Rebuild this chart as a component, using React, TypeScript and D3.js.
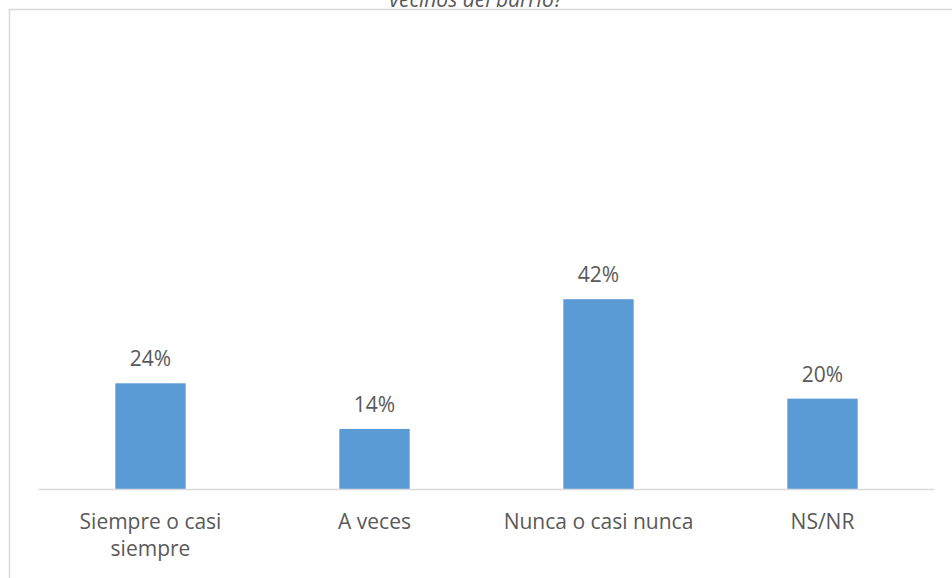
import React from "react";
import * as d3 from "d3";

const categories: string[][] = [
  ["Siempre o casi", "siempre"],
  ["A veces"],
  ["Nunca o casi nunca"],
  ["NS/NR"],
];
const values: number[] = [0.235, 0.134, 0.421, 0.201];
const valueLabels: string[] = ["24%", "14%", "42%", "20%"];
const titleText = "vecinos del barrio?";

const W = 952;
const H = 578;
const FONT = "'Open Sans', sans-serif";
const TEXT = "#595959";
const GRID = "#d9d9d9";
const BAR = "#5b9bd5";

export default function App() {
  const x = d3
    .scaleBand<number>()
    .domain(d3.range(categories.length))
    .range([38.5, 934.5])
    .paddingInner(0.686)
    .paddingOuter(0.343);
  const y = d3.scaleLinear().domain([0, 0.5]).range([489.5, 263.5]);

  return (
    <svg
      width={W}
      height={H}
      style={{ position: "absolute", left: 0, top: 0, background: "#fff" }}
      fontFamily={FONT}
    >
      <rect x={0} y={0} width={W} height={H} fill="#fff" />
      <rect x={9.5} y={9.5} width={1200} height={1200} fill="#fff" stroke={GRID} strokeWidth={1.5} />
      <text
        x={476}
        y={6.5}
        textAnchor="middle"
        fontSize={21}
        fontStyle="italic"
        fill={TEXT}
      >
        {titleText}
      </text>
      {values.map((v, i) => (
        <rect
          key={"b" + i}
          x={x(i)!}
          y={y(v)}
          width={x.bandwidth()}
          height={y(0) - y(v)}
          fill={BAR}
        />
      ))}
      <line x1={38.5} x2={934.5} y1={y(0)} y2={y(0)} stroke={GRID} strokeWidth={1.5} />
      {values.map((v, i) => (
        <text
          key={"l" + i}
          x={x(i)! + x.bandwidth() / 2}
          y={y(v) - 17}
          textAnchor="middle"
          fontSize={21}
          fill={TEXT}
        >
          {valueLabels[i]}
        </text>
      ))}
      {categories.map((lines, i) => (
        <text
          key={"c" + i}
          x={x(i)! + x.bandwidth() / 2}
          y={529}
          textAnchor="middle"
          fontSize={21}
          fill={TEXT}
        >
          {lines.map((ln, j) => (
            <tspan key={j} x={x(i)! + x.bandwidth() / 2} dy={j === 0 ? 0 : 27}>
              {ln}
            </tspan>
          ))}
        </text>
      ))}
    </svg>
  );
}
